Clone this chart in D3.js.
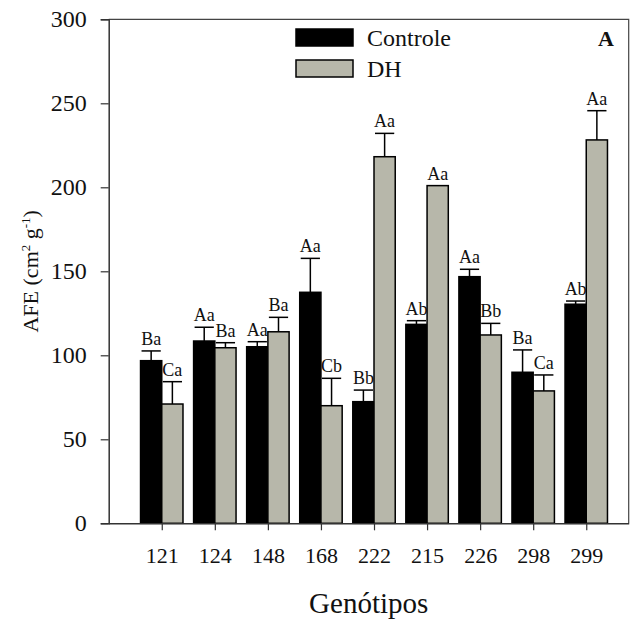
<!DOCTYPE html>
<html lang="en">
	<head>
		<meta charset="utf-8">
		<title>AFE por genótipo</title>
		<script src="https://d3js.org/d3.v7.min.js"></script>
		<style type="text/css">
			body { margin: 0; background: #fff; }
			text {
				font-family: "Liberation Serif", "Times New Roman", serif;
				fill: #111;
			}
			.bar-label { font-size: 18px; }
		</style>
	</head>
	<body>
		<script type="text/javascript">
			// Chart size
			var w = 630;
			var h = 623;
			var margin = {top: 19.3, right: 1.3, bottom: 99.7, left: 108.7};

			// Data
			var genotipos = ["121", "124", "148", "168", "222", "215", "226", "298", "299"];
			var controle = [96.8, 108.5, 105.1, 137.5, 72.4, 118.4, 146.8, 89.9, 130.4];
			var controleErr = [5.8, 8.2, 3.0, 20.2, 6.9, 2.2, 4.4, 13.3, 1.9];
			var controleLetras = ["Ba", "Aa", "Aa", "Aa", "Bb", "Ab", "Aa", "Ba", "Ab"];
			var dh = [71.0, 104.5, 114.0, 70.0, 218.2, 201.0, 112.1, 78.8, 228.2];
			var dhErr = [13.3, 3.0, 8.6, 16.3, 13.9, 0, 6.9, 9.5, 17.4];
			var dhLetras = ["Ca", "Ba", "Ba", "Cb", "Aa", "Aa", "Bb", "Ca", "Aa"];
			var yTicks = [0, 50, 100, 150, 200, 250, 300];

			var series = [
				{ name: "Controle", color: "#000000", values: controle, err: controleErr, letras: controleLetras, offset: -1 },
				{ name: "DH", color: "#b7b7aa", values: dh, err: dhErr, letras: dhLetras, offset: 0 }
			];

			// Scales
			var xScale = d3.scaleLinear()
				.domain([-1, 8.8])
				.range([margin.left, w - margin.right]);

			var yScale = d3.scaleLinear()
				.domain([0, 300])
				.range([h - margin.bottom, margin.top]);

			var barW = xScale(0.4) - xScale(0);

			var svg = d3.select("body")
				.append("svg")
				.attr("width", w)
				.attr("height", h);

			// Frame (top and right)
			svg.append("path")
				.attr("d", "M" + margin.left + "," + yScale(300) + "H" + xScale(8.8) + "V" + yScale(0))
				.attr("fill", "none")
				.attr("stroke", "#444")
				.attr("stroke-width", 1.2);

			// Bars, error bars and letters for each series
			series.forEach(function(s) {
				var g = svg.append("g");
				var idx = d3.range(s.values.length);
				var left = function(i) { return xScale(i) + s.offset * barW; };
				var top = function(i) { return yScale(s.values[i] + s.err[i]); };

				g.selectAll("rect")
					.data(idx)
					.enter()
					.append("rect")
					.attr("x", left)
					.attr("y", function(i) { return yScale(s.values[i]); })
					.attr("width", barW)
					.attr("height", function(i) { return yScale(0) - yScale(s.values[i]); })
					.attr("fill", s.color)
					.attr("stroke", "#000")
					.attr("stroke-width", 1.5);

				// upper error bar only
				var eb = g.selectAll("g.err")
					.data(idx.filter(function(i) { return s.err[i] > 0; }))
					.enter()
					.append("g")
					.attr("class", "err")
					.attr("stroke", "#000")
					.attr("stroke-width", 1.5);

				eb.append("line")
					.attr("x1", function(i) { return left(i) + barW / 2; })
					.attr("x2", function(i) { return left(i) + barW / 2; })
					.attr("y1", function(i) { return yScale(s.values[i]); })
					.attr("y2", top);

				eb.append("line")
					.attr("x1", function(i) { return left(i) + 1; })
					.attr("x2", function(i) { return left(i) + barW - 1; })
					.attr("y1", top)
					.attr("y2", top);

				g.selectAll("text")
					.data(idx)
					.enter()
					.append("text")
					.attr("class", "bar-label")
					.attr("x", function(i) { return left(i) + barW / 2; })
					.attr("y", function(i) { return top(i) - 6; })
					.attr("text-anchor", "middle")
					.text(function(i) { return s.letras[i]; });
			});

			// Y axis
			var yAxis = d3.axisLeft(yScale)
				.tickValues(yTicks)
				.tickSize(8)
				.tickPadding(14);

			var gy = svg.append("g")
				.attr("transform", "translate(" + margin.left + ",0)")
				.call(yAxis);
			gy.select(".domain").attr("stroke", "#333").attr("stroke-width", 1.5);
			gy.selectAll(".tick line").attr("stroke", "#333").attr("stroke-width", 1.2);
			gy.selectAll(".tick text").style("font-size", "24px");

			// X axis
			var xAxis = d3.axisBottom(xScale)
				.tickValues(d3.range(genotipos.length))
				.tickFormat(function(i) { return genotipos[i]; })
				.tickSize(7)
				.tickSizeOuter(0)
				.tickPadding(17);

			var gx = svg.append("g")
				.attr("transform", "translate(0," + yScale(0) + ")")
				.call(xAxis);
			gx.select(".domain").attr("stroke", "#333").attr("stroke-width", 1.5);
			gx.selectAll(".tick line").attr("stroke", "#333").attr("stroke-width", 1.2);
			gx.selectAll(".tick text").style("font-size", "22px");

			// Axis titles
			var yTitle = svg.append("text")
				.attr("transform", "translate(38," + ((yScale(0) + yScale(300)) / 2) + ") rotate(-90)")
				.attr("text-anchor", "middle")
				.style("font-size", "22px");
			yTitle.append("tspan").text("AFE (cm");
			yTitle.append("tspan").attr("dy", -8).style("font-size", "13px").text("2");
			yTitle.append("tspan").attr("dy", 8).text(" g");
			yTitle.append("tspan").attr("dy", -8).style("font-size", "13px").text("-1");
			yTitle.append("tspan").attr("dy", 8).text(")");

			svg.append("text")
				.attr("x", (xScale(-1) + xScale(8.8)) / 2)
				.attr("y", 613)
				.attr("text-anchor", "middle")
				.style("font-size", "29px")
				.text("Genótipos");

			// Panel letter
			svg.append("text")
				.attr("x", 614)
				.attr("y", 46)
				.attr("text-anchor", "end")
				.style("font-size", "22px")
				.style("font-weight", "bold")
				.text("A");

			// Legend
			var legend = svg.selectAll(".legend")
				.data(series)
				.enter()
				.append("g")
				.attr("class", "legend")
				.attr("transform", function(d, i) {
					return "translate(296," + (29 + i * 31) + ")";
				});

			legend.append("rect")
				.attr("width", 57)
				.attr("height", 17)
				.attr("fill", function(d) { return d.color; })
				.attr("stroke", "#000")
				.attr("stroke-width", 1.5);

			legend.append("text")
				.attr("x", 71)
				.attr("y", 16.5)
				.style("font-size", "24px")
				.text(function(d) { return d.name; });
		</script>
	</body>
</html>
